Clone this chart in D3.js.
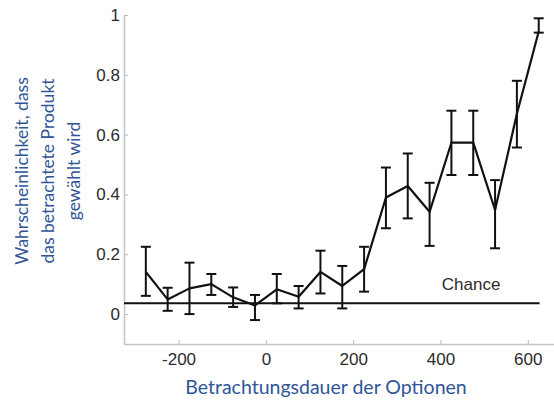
<!DOCTYPE html>
<html>
<head>
<meta charset="utf-8">
<script src="https://cdn.jsdelivr.net/npm/d3@7"></script>
<style>
	body { margin: 0; background: #fff; }
	.tick text { font-family: "Liberation Sans", Arial, sans-serif; font-size: 17px; fill: #2b2b2b; }
	.axis-title { font-family: Lato, "Open Sans", sans-serif; fill: #2f5597; }
</style>
</head>
<body>
<svg id="chart"></svg>
<script>
// viewing time relative to choice (ms)
const times = [-275, -225, -175, -125, -75, -25, 25, 75, 125, 175, 225, 275, 325, 375, 425, 475, 525, 575, 625];
const means = [0.141, 0.049, 0.086, 0.100, 0.056, 0.029, 0.083, 0.058, 0.141, 0.094, 0.150, 0.390, 0.428, 0.342, 0.573, 0.573, 0.348, 0.670, 0.945];
const upper = [0.225, 0.088, 0.172, 0.134, 0.089, 0.064, 0.134, 0.094, 0.212, 0.161, 0.225, 0.490, 0.537, 0.439, 0.680, 0.680, 0.448, 0.780, 0.989];
const lower = [0.061, 0.011, 0.000, 0.064, 0.024, -0.020, 0.036, 0.019, 0.069, 0.019, 0.075, 0.287, 0.320, 0.228, 0.465, 0.465, 0.220, 0.557, 0.941];

const chanceLevel = 0.036;
const chanceRange = [-325, 627];
const chanceLabelAt = 470;

const xTicks = [-200, 0, 200, 400, 600];
const yTicks = [0, 0.2, 0.4, 0.6, 0.8, 1];

const yTitle = ['Wahrscheinlichkeit, dass', 'das betrachtete Produkt', 'gewählt wird'];
const xTitle = 'Betrachtungsdauer der Optionen';

function makeChart() {
	let w = 554;
	let h = 400;

	let chart = d3.select('#chart')
		.attr('width', w)
		.attr('height', h);

	let x = d3.scaleLinear().domain([-325, 660]).range([124, 554]);
	let y = d3.scaleLinear().domain([-0.1, 1]).range([344, 15]);

	let data = times.map((t, i) => ({ t: t, m: means[i], hi: upper[i], lo: lower[i] }));

	// axes
	let xAxis = d3.axisBottom(x)
		.tickValues(xTicks)
		.tickFormat(d => String(d))
		.tickSizeInner(-4)
		.tickSizeOuter(0)
		.tickPadding(9);

	let yAxis = d3.axisLeft(y)
		.tickValues(yTicks)
		.tickFormat(d => String(d))
		.tickSizeInner(-4)
		.tickSizeOuter(0)
		.tickPadding(4);

	let gx = chart.append('g')
		.attr('transform', 'translate(0,' + y(-0.1) + ')')
		.call(xAxis);

	let gy = chart.append('g')
		.attr('transform', 'translate(' + x(-325) + ',0)')
		.call(yAxis);

	[gx, gy].forEach(g => {
		g.select('.domain').style('stroke', '#c4c4c4').style('stroke-width', 1.5);
		g.selectAll('.tick line').style('stroke', '#bdbdbd').style('stroke-width', 1);
	});

	// chance line
	chart.append('line')
		.attr('x1', x(chanceRange[0]))
		.attr('x2', x(chanceRange[1]))
		.attr('y1', y(chanceLevel))
		.attr('y2', y(chanceLevel))
		.style('stroke', '#111')
		.style('stroke-width', 2);

	chart.append('text')
		.attr('x', x(chanceLabelAt))
		.attr('y', y(chanceLevel) - 13)
		.style('text-anchor', 'middle')
		.style('font-family', '"Liberation Sans", Arial, sans-serif')
		.style('font-size', '17px')
		.style('fill', '#2b2b2b')
		.text('Chance');

	// error bars
	let bars = chart.selectAll('.err')
		.data(data)
		.enter()
		.append('g')
		.classed('err', true)
		.style('stroke', '#111')
		.style('stroke-width', 2);

	bars.append('line')
		.attr('x1', d => x(d.t))
		.attr('x2', d => x(d.t))
		.attr('y1', d => y(d.hi))
		.attr('y2', d => y(d.lo));

	bars.append('line')
		.attr('x1', d => x(d.t) - 5)
		.attr('x2', d => x(d.t) + 5)
		.attr('y1', d => y(d.hi))
		.attr('y2', d => y(d.hi));

	bars.append('line')
		.attr('x1', d => x(d.t) - 5)
		.attr('x2', d => x(d.t) + 5)
		.attr('y1', d => y(d.lo))
		.attr('y2', d => y(d.lo));

	// mean line
	let line = d3.line()
		.x(d => x(d.t))
		.y(d => y(d.m));

	chart.append('path')
		.datum(data)
		.attr('d', line)
		.style('fill', 'none')
		.style('stroke', '#111')
		.style('stroke-width', 2.2)
		.style('stroke-linejoin', 'round');

	// titles
	chart.append('text')
		.classed('axis-title', true)
		.attr('x', 326)
		.attr('y', 394)
		.style('font-size', '19.5px')
		.style('text-anchor', 'middle')
		.text(xTitle);

	chart.selectAll('.ytitle')
		.data(yTitle)
		.enter()
		.append('text')
		.classed('axis-title', true)
		.attr('transform', (d, i) => 'translate(' + (28 + i * 26) + ',171) rotate(-90)')
		.style('font-size', '17.5px')
		.style('text-anchor', 'middle')
		.text(d => d);
}

window.onload = function () {
	makeChart();
}
</script>
</body>
</html>
